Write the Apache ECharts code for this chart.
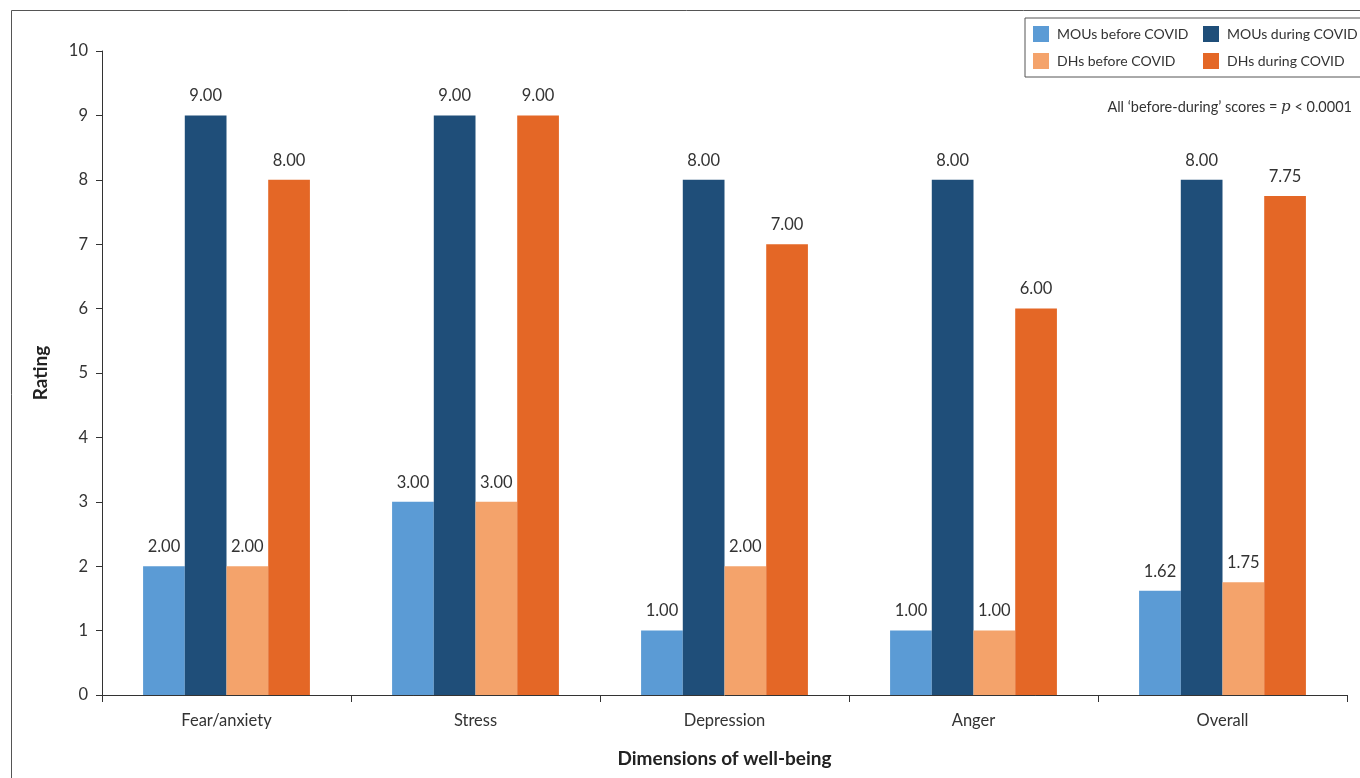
<!DOCTYPE html>
<html>
<head>
<meta charset="utf-8">
<script src="https://cdn.jsdelivr.net/npm/echarts@6/dist/echarts.min.js"></script>
<style>html,body{margin:0;padding:0;background:#fff}#c{width:1360px;height:778px}</style>
</head>
<body>
<div id="c"></div>
<script>
var categories = ['Fear/anxiety', 'Stress', 'Depression', 'Anger', 'Overall'];
var mouBefore = [2.00, 3.00, 1.00, 1.00, 1.62];
var mouDuring = [9.00, 9.00, 8.00, 8.00, 8.00];
var dhBefore = [2.00, 3.00, 2.00, 1.00, 1.75];
var dhDuring = [8.00, 9.00, 7.00, 6.00, 7.75];
var seriesNames = ['MOUs before COVID', 'MOUs during COVID', 'DHs before COVID', 'DHs during COVID'];
var colors = ['#5B9BD5', '#1F4E79', '#F4A36B', '#E46726'];
var yTicks = [0, 1, 2, 3, 4, 5, 6, 7, 8, 9, 10];

var FONT = 'Lato';
var chart = echarts.init(document.getElementById('c'));
var dataSets = [mouBefore, mouDuring, dhBefore, dhDuring];
var series = dataSets.map(function (d, i) {
  return {
    name: seriesNames[i],
    type: 'bar',
    data: d,
    barGap: '0%',
    barCategoryGap: '33%',
    itemStyle: { color: colors[i] },
    label: {
      show: true, position: 'top', distance: 11,
      color: '#333', fontSize: 16.5, fontFamily: FONT,
      formatter: function (p) { return p.value.toFixed(2); }
    }
  };
});

chart.setOption({
  animation: false,
  textStyle: { fontFamily: FONT },
  grid: { left: 102, right: 13, top: 51, bottom: 83, containLabel: false },
  legend: {
    data: seriesNames,
    left: 1025, top: 18,
    width: 345,
    orient: 'horizontal',
    padding: [8, 8, 8, 8],
    itemWidth: 16, itemHeight: 16, itemGap: 11,
    icon: 'rect',
    borderColor: '#555', borderWidth: 1,
    textStyle: { fontSize: 14, color: '#333', fontFamily: FONT, width: 135, lineHeight: 16, height: 16, padding: [0, 0, 0, 3] }
  },
  xAxis: {
    type: 'category',
    data: categories,
    name: 'Dimensions of well-being',
    nameLocation: 'middle', nameGap: 54,
    nameTextStyle: { fontSize: 19, fontWeight: 'bold', color: '#222', fontFamily: FONT },
    axisLine: { lineStyle: { color: '#333', width: 1 } },
    axisTick: { show: true, length: 7, lineStyle: { color: '#333' } },
    axisLabel: { fontSize: 16.5, color: '#333', margin: 17, fontFamily: FONT }
  },
  yAxis: {
    type: 'value',
    min: 0, max: 10, interval: 1,
    name: 'Rating',
    nameLocation: 'middle', nameGap: 52,
    nameTextStyle: { fontSize: 19, fontWeight: 'bold', color: '#222', fontFamily: FONT },
    axisLine: { show: true, lineStyle: { color: '#333', width: 1 } },
    axisTick: { show: true, length: 6, lineStyle: { color: '#333' } },
    axisLabel: { fontSize: 16.5, color: '#333', margin: 14, fontFamily: FONT,
      formatter: function (v) { return yTicks.indexOf(v) >= 0 ? String(v) : ''; } },
    splitLine: { show: false }
  },
  graphic: [
    { type: 'rect', silent: true, shape: { x: 11.5, y: 10.5, width: 1400, height: 800 },
      style: { fill: 'none', stroke: '#555', lineWidth: 1 } },
    { type: 'text', right: 8, top: 100, silent: true,
      style: {
        text: 'All \u2018before-during\u2019 scores = {p|p} < 0.0001',
        fontSize: 14.5, fill: '#333', fontFamily: FONT,
        rich: { p: { fontStyle: 'italic', fontFamily: 'DejaVu Serif', fontSize: 15, fill: '#333' } }
      } }
  ],
  series: series
});
</script>
</body>
</html>
